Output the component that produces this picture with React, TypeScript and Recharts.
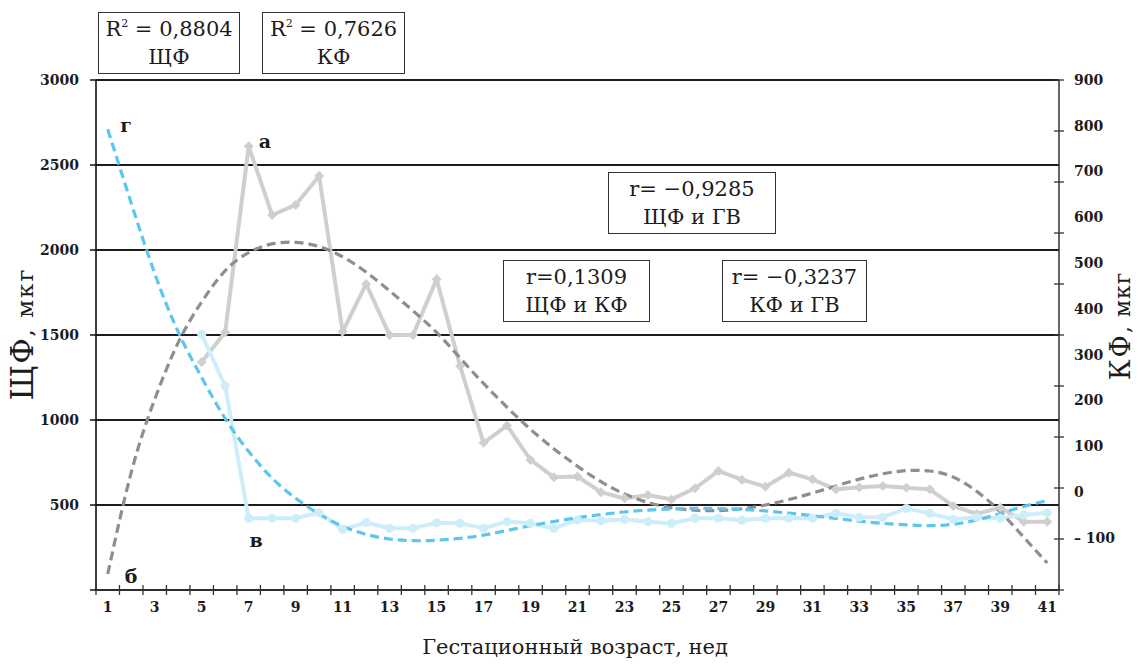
import { LineChart, Line, XAxis, YAxis, CartesianGrid } from "recharts";

// gestational week (categories)
const weeks = [
  1, 2, 3, 4, 5, 6, 7, 8, 9, 10, 11, 12, 13, 14, 15, 16, 17, 18, 19, 20, 21,
  22, 23, 24, 25, 26, 27, 28, 29, 30, 31, 32, 33, 34, 35, 36, 37, 38, 39, 40, 41,
];

// ЩФ (grey, diamonds), weeks 1-4 empty
const shf = [
  null, null, null, null, 1341, 1516, 2610, 2206, 2265, 2435, 1520, 1800, 1500,
  1500, 1828, 1318, 866, 967, 765, 663, 667, 575, 539, 559, 533, 598, 700, 649,
  608, 690, 651, 592, 604, 612, 602, 592, 494, 447, 486, 402, 402,
];

// КФ (light blue, circles), weeks 1-4 empty
const kf = [
  null, null, null, null, 1504, 1200, 422, 422, 422, 455, 357, 396, 363, 363,
  396, 392, 363, 402, 392, 363, 412, 408, 416, 402, 392, 422, 422, 410, 422, 422,
  422, 451, 428, 428, 480, 451, 416, 428, 422, 441, 455,
];

// polynomial trend lines
const shfTrend = [
  94, 692, 1122, 1455, 1695, 1878, 1985, 2036, 2045, 2020, 1960, 1870, 1760,
  1642, 1515, 1365, 1215, 1075, 945, 830, 728, 637, 565, 515, 484, 469, 467, 478,
  500, 532, 570, 612, 652, 684, 702, 700, 664, 580, 460, 310, 159,
];
const kfTrend = [
  2710, 2275, 1862, 1518, 1250, 1008, 815, 657, 540, 447, 375, 327, 300, 290,
  293, 304, 323, 350, 378, 403, 425, 444, 459, 470, 477, 480, 479, 474, 465, 452,
  437, 421, 405, 392, 383, 379, 387, 412, 450, 492, 526,
];

const xLabels = [1, 3, 5, 7, 9, 11, 13, 15, 17, 19, 21, 23, 25, 27, 29, 31, 33, 35, 37, 39, 41];
const leftTicks = [0, 500, 1000, 1500, 2000, 2500, 3000];
const rightTicks = [-100, 0, 100, 200, 300, 400, 500, 600, 700, 800, 900];

const rows = weeks.map((w, i) => ({
  week: w,
  shf: shf[i],
  kf: kf[i],
  shfTrend: shfTrend[i],
  kfTrend: kfTrend[i],
}));

// tick marks sit between categories, labels on odd weeks
const boundaries = [...weeks.map((w) => w - 0.5), weeks[weeks.length - 1] + 0.5];
const xTicks = [...boundaries, ...xLabels].sort((a, b) => a - b);

const FONT = "'DejaVu Serif', serif";
const PLOT_TOP = 80;
const INK = "#1c1c1c";

function XTick(props: any) {
  const { x, y, payload } = props;
  const v = payload.value;
  if (!Number.isInteger(v)) {
    return <line x1={x} x2={x} y1={y - 5} y2={y + 5} stroke="#333" strokeWidth={1.3} />;
  }
  return (
    <text x={x} y={y + 22} textAnchor="middle" fontFamily={FONT} fontSize={14} fontWeight={700} fill={INK}>
      {v}
    </text>
  );
}

function LeftTick(props: any) {
  const { x, y, payload } = props;
  return (
    <g>
      <line x1={x - 6} x2={x} y1={y} y2={y} stroke="#111" strokeWidth={1.5} />
      {payload.value > 0 && (
        <text x={x - 17} y={y} dy="0.35em" textAnchor="end" fontFamily={FONT} fontSize={14} fontWeight={700} fill={INK}>
          {payload.value}
        </text>
      )}
    </g>
  );
}

function RightTick(props: any) {
  const { x, y, payload } = props;
  const v = payload.value;
  // labels in the original are set a little tighter than the tick marks
  const ly = PLOT_TOP + (y - PLOT_TOP) * 0.898;
  return (
    <g>
      <line x1={x - 5} x2={x + 5} y1={y} y2={y} stroke="#333" strokeWidth={1.3} />
      <text x={x + 15} y={ly} dy="0.35em" textAnchor="start" fontFamily={FONT} fontSize={14} fontWeight={700} fill={INK}>
        {v < 0 ? `– ${Math.abs(v)}` : v}
      </text>
    </g>
  );
}

const diamond = (props: any) => {
  const { cx, cy, index } = props;
  if (cx == null || cy == null) return <g key={`d-${index}`} />;
  const r = 5;
  return (
    <path
      key={`d-${index}`}
      d={`M${cx},${cy - r}L${cx + r},${cy}L${cx},${cy + r}L${cx - r},${cy}Z`}
      fill="#cfcfcf"
    />
  );
};

const circle = (props: any) => {
  const { cx, cy, index } = props;
  if (cx == null || cy == null) return <g key={`c-${index}`} />;
  return <circle key={`c-${index}`} cx={cx} cy={cy} r={4.5} fill="#cdedfa" />;
};

const boxStyle = (left: number, top: number, width: number): React.CSSProperties => ({
  position: "absolute",
  left,
  top,
  width,
  height: 62,
  boxSizing: "border-box",
  border: "1.5px solid #333",
  background: "#fff",
  textAlign: "center",
  fontFamily: FONT,
  fontSize: 21,
  lineHeight: "28px",
  paddingTop: 2,
  color: INK,
});

const letter = (left: number, top: number): React.CSSProperties => ({
  position: "absolute",
  left,
  top,
  transform: "translate(-50%, -50%)",
  fontFamily: FONT,
  fontWeight: 700,
  fontSize: 19,
  color: INK,
});

const sup = <sup style={{ fontSize: 11, verticalAlign: "9px", lineHeight: 0 }}>2</sup>;

export default function App() {
  return (
    <div style={{ position: "absolute", left: 0, top: 0, width: 1138, height: 671, background: "#fff" }}>
      <LineChart width={1138} height={671} data={rows} margin={{ top: 80, right: 29, bottom: 51, left: 36 }}>
        <CartesianGrid yAxisId="left" vertical={false} stroke="#1c1c1c" strokeWidth={1.8} />
        <XAxis
          dataKey="week"
          type="number"
          domain={[0.5, 41.5]}
          ticks={xTicks}
          interval={0}
          height={30}
          tickSize={0}
          tickMargin={0}
          tickLine={false}
          tick={XTick}
          axisLine={{ stroke: "#333", strokeWidth: 1.5 }}
        />
        <YAxis
          yAxisId="left"
          domain={[0, 3000]}
          ticks={leftTicks}
          interval={0}
          width={60}
          tickSize={0}
          tickMargin={0}
          tickLine={false}
          tick={LeftTick}
          axisLine={{ stroke: "#111", strokeWidth: 1.6 }}
        />
        <YAxis
          yAxisId="right"
          orientation="right"
          type="number"
          domain={[-100, 900]}
          allowDataOverflow
          ticks={rightTicks}
          interval={0}
          width={50}
          tickSize={0}
          tickMargin={0}
          tickLine={false}
          tick={RightTick}
          axisLine={{ stroke: "#333", strokeWidth: 1.5 }}
        />
        {/* empty series so the secondary axis is drawn */}
        <Line
          yAxisId="right"
          dataKey="none"
          stroke="none"
          dot={false}
          activeDot={false}
          legendType="none"
          isAnimationActive={false}
        />
        <Line
          yAxisId="left"
          dataKey="shf"
          type="linear"
          stroke="#cfcfcf"
          strokeWidth={4}
          dot={diamond}
          activeDot={false}
          isAnimationActive={false}
        />
        <Line
          yAxisId="left"
          dataKey="kf"
          type="linear"
          stroke="#cdedfa"
          strokeWidth={4}
          dot={circle}
          activeDot={false}
          isAnimationActive={false}
        />
        <Line
          yAxisId="left"
          dataKey="shfTrend"
          type="natural"
          stroke="#8e8e8e"
          strokeWidth={3.2}
          strokeDasharray="9 5"
          dot={false}
          activeDot={false}
          isAnimationActive={false}
        />
        <Line
          yAxisId="left"
          dataKey="kfTrend"
          type="natural"
          stroke="#5cc6ef"
          strokeWidth={3.2}
          strokeDasharray="9 5"
          dot={false}
          activeDot={false}
          isAnimationActive={false}
        />
      </LineChart>

      <div style={boxStyle(98, 12, 142)}>
        R{sup} = 0,8804
        <br />
        ЩФ
      </div>
      <div style={boxStyle(262, 12, 143)}>
        R{sup} = 0,7626
        <br />
        КФ
      </div>
      <div style={boxStyle(608, 172, 168)}>
        r= −0,9285
        <br />
        ЩФ и ГВ
      </div>
      <div style={boxStyle(503, 260, 147)}>
        r=0,1309
        <br />
        ЩФ и КФ
      </div>
      <div style={boxStyle(722, 260, 145)}>
        r= −0,3237
        <br />
        КФ и ГВ
      </div>

      <div style={letter(126, 125)}>г</div>
      <div style={letter(265, 141)}>а</div>
      <div style={letter(131, 576)}>б</div>
      <div style={letter(256, 540)}>в</div>

      <div
        style={{
          position: "absolute",
          left: 575,
          top: 647,
          transform: "translate(-50%, -50%)",
          whiteSpace: "nowrap",
          fontFamily: FONT,
          fontSize: 21,
          color: INK,
        }}
      >
        Гестационный возраст, нед
      </div>
      <div
        style={{
          position: "absolute",
          left: 22,
          top: 334,
          transform: "translate(-50%, -50%) rotate(-90deg)",
          whiteSpace: "nowrap",
          fontFamily: FONT,
          color: INK,
        }}
      >
        <span style={{ fontSize: 31, letterSpacing: 1.5 }}>ЩФ</span>
        <span style={{ fontSize: 23, letterSpacing: 2 }}>, мкг</span>
      </div>
      <div
        style={{
          position: "absolute",
          left: 1120,
          top: 326,
          transform: "translate(-50%, -50%) rotate(-90deg)",
          whiteSpace: "nowrap",
          fontFamily: FONT,
          color: INK,
        }}
      >
        <span style={{ fontSize: 27, letterSpacing: 2 }}>КФ</span>
        <span style={{ fontSize: 22, letterSpacing: 1 }}>, мкг</span>
      </div>
    </div>
  );
}
